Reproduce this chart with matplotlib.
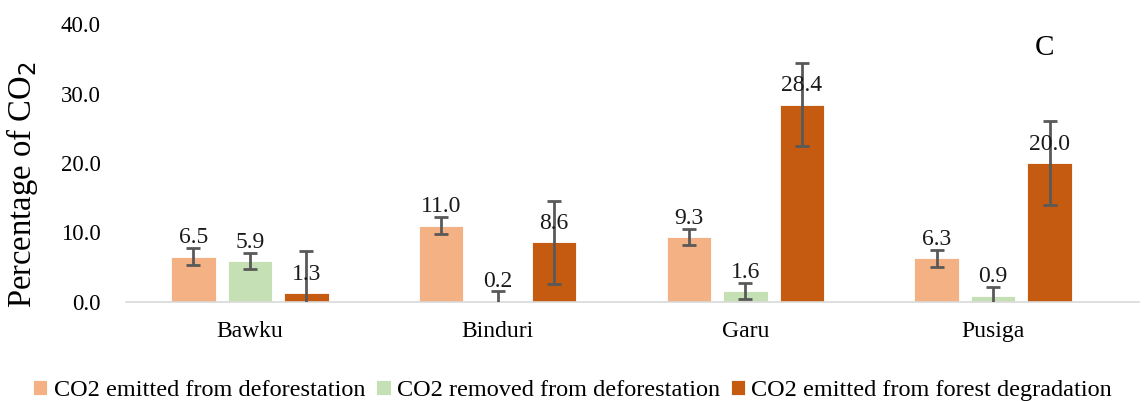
import matplotlib
matplotlib.use("Agg")
import matplotlib.pyplot as plt
import numpy as np

categories = ["Bawku", "Binduri", "Garu", "Pusiga"]
series_names = ["CO2 emitted from deforestation",
                "CO2 removed from deforestation",
                "CO2 emitted from forest degradation"]
emitted_def = [6.5, 11.0, 9.3, 6.3]
removed_def = [5.9, 0.2, 1.6, 0.9]
emitted_deg = [1.3, 8.6, 28.4, 20.0]
err_emitted_def = [1.2, 1.25, 1.15, 1.2]
err_removed_def = [1.2, 1.4, 1.2, 1.2]
err_emitted_deg = [6.0, 6.0, 6.0, 6.1]
yticks = [0, 10, 20, 30, 40]

colors = ["#F4B183", "#C5E0B4", "#C55A11"]

plt.rcParams['font.family'] = ['Liberation Serif', 'DejaVu Serif']

fig = plt.figure(figsize=(11.45, 4.01), dpi=100)
ax = fig.add_axes([0.11, 0.247, 0.885, 0.693])

x = np.arange(len(categories))
width = 0.18
offsets = [-0.228, 0.0, 0.228]
data = [emitted_def, removed_def, emitted_deg]
errs = [err_emitted_def, err_removed_def, err_emitted_deg]

for i in range(3):
    ax.bar(x + offsets[i], data[i], width, color=colors[i], label=series_names[i],
           edgecolor='white', linewidth=0.6, zorder=2)
    ax.errorbar(x + offsets[i], data[i], yerr=errs[i], fmt='none', ecolor='#595959',
                elinewidth=2, capsize=5, capthick=2, zorder=3)
    for xi, v in zip(x + offsets[i], data[i]):
        ax.annotate(f"{v:.1f}", (xi, v), xytext=(0, 6), textcoords='offset points',
                    ha='center', va='bottom', fontsize=17, color='#1a1a1a', zorder=4)

ax.set_xlim(-0.5, 3.59)
ax.set_ylim(0, 40)
ax.set_yticks(yticks)
ax.set_yticklabels([f"{t:.1f}" for t in yticks], fontsize=16.5)
ax.set_xticks(x)
ax.set_xticklabels(categories, fontsize=17)
ax.tick_params(axis='y', length=0, pad=18)
ax.tick_params(axis='x', length=0, pad=14)
for s in ['top', 'right', 'left']:
    ax.spines[s].set_visible(False)
ax.spines['bottom'].set_color('#D9D9D9')
ax.spines['bottom'].set_linewidth(1.2)

ax.set_ylabel("Percentage of CO$_2$", fontsize=23.5)
ax.yaxis.set_label_coords(-0.085, 0.42)

fig.text(1045/1145, 1 - 48/401, "C", fontsize=21, ha='center', va='center')

fig.legend(loc='lower center', bbox_to_anchor=(0.5, -0.055), ncol=3, frameon=False,
           fontsize=17.5, handlelength=0.6, handleheight=0.6, handletextpad=0.25,
           columnspacing=0.45)

fig.savefig("out.png", dpi=100)
